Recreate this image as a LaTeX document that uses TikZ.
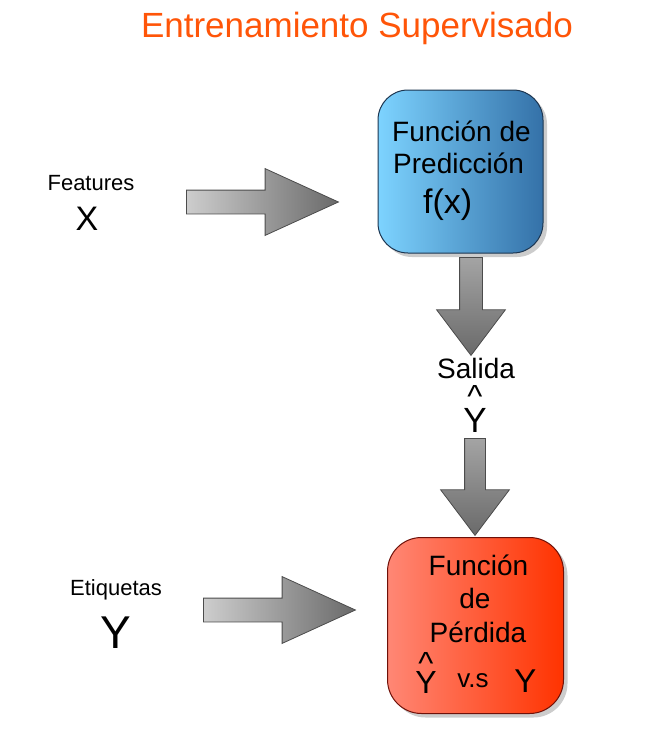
\documentclass[tikz,border=0pt]{standalone}
\usepackage{fontspec}
\setmainfont{Liberation Sans}
\usetikzlibrary{arrows, calc, shapes, shadows, positioning}

\definecolor{titulo}{HTML}{FF5508}
\definecolor{azulclaro}{HTML}{7DD3FF}
\definecolor{azuloscuro}{HTML}{3471A8}
\definecolor{azulborde}{HTML}{1C3550}
\definecolor{rojoclaro}{HTML}{FF8775}
\definecolor{rojooscuro}{HTML}{FF3300}
\definecolor{rojoborde}{HTML}{6E1008}
\definecolor{grisclaro}{HTML}{CDCDCD}
\definecolor{grisoscuro}{HTML}{6A6A6A}

\begin{document}
\begin{tikzpicture}[x=1pt,y=-1pt,
	caja/.style={rectangle, rounded corners=30pt, line width=1pt,
		drop shadow={shadow xshift=4pt, shadow yshift=-4pt, fill=black!40}},
	flecha/.style={single arrow, draw=black!70, line width=.8pt, anchor=tail,
		inner xsep=0pt, minimum height=152pt, single arrow tip angle=49,
		single arrow head extend=21.5pt, inner ysep=11.5pt,
		left color=grisclaro, right color=grisoscuro},
	flechaabajo/.style={single arrow, draw=black!70, line width=.8pt, anchor=tail,
		shape border rotate=270, inner ysep=0pt, minimum height=97pt,
		single arrow tip angle=74, single arrow head extend=23pt, inner xsep=11pt,
		top color=grisclaro!80!black, bottom color=grisoscuro},
	chico/.style={font=\fontsize{22}{24}\selectfont, anchor=base, inner sep=0pt},
	medio/.style={font=\fontsize{28}{31}\selectfont, anchor=base, inner sep=0pt},
	grande/.style={font=\fontsize{34}{36}\selectfont, anchor=base, inner sep=0pt},
	sombrero/.style={font=\fontsize{32}{34}\selectfont, anchor=base, inner sep=0pt}]

	\useasboundingbox (0,0) rectangle (645,729);

	\node[anchor=base, inner sep=0pt, text=titulo, font=\fontsize{35}{38}\selectfont]
		(titulo) at (357,37) {Entrenamiento Supervisado};

	% cajas
	\node[caja, draw=azulborde, left color=azulclaro, right color=azuloscuro,
		minimum width=165pt, minimum height=163pt] (prediccion) at (460.5,171.5) {};
	\node[medio, anchor=base west] (pred1) at (392,141) {Función de};
	\node[medio, anchor=base west] (pred2) at (393,173) {Predicción};
	\node[grande, anchor=base west] (fx) at (423,213) {f(x)};

	\node[caja, draw=rojoborde, left color=rojoclaro, right color=rojooscuro,
		rounded corners=34pt, minimum width=176pt, minimum height=176pt] (perdida) at (475.5,625.5) {};
	\node[medio] (perd1) at (478.5,575) {Función};
	\node[medio] (perd2) at (475,608) {de};
	\node[medio] (perd3) at (478,642) {Pérdida};
	\node[sombrero] (hatperd) at (426,674) {\textasciicircum};
	\node[grande, font=\fontsize{32}{36}\selectfont] (yhatperd) at (426,693) {Y};
	\node[medio, font=\fontsize{26}{30}\selectfont] (vs) at (473,687) {v.s};
	\node[grande, font=\fontsize{33}{36}\selectfont] (yperd) at (525.5,692) {Y};

	% entradas
	\node[chico] (features) at (91,190) {Features};
	\node[grande] (x) at (87,230) {X};
	\node[chico] (etiquetas) at (116,595) {Etiquetas};
	\node[grande, font=\fontsize{46}{50}\selectfont] (y) at (116,648) {Y};

	% salida
	\node[medio] (salida) at (476,378) {Salida};
	\node[sombrero] (hatsalida) at (475,407) {\textasciicircum};
	\node[grande, font=\fontsize{35}{36}\selectfont] (ysalida) at (475,432) {Y};

	% flechas
	\node[flecha] (flecha1) at (186,202) {};
	\node[flecha] (flecha4) at (203,610) {};
	\node[flechaabajo, minimum height=98pt, inner xsep=11pt] (flecha2) at (471,257) {};
	\node[flechaabajo, inner xsep=10pt, single arrow head extend=24pt] (flecha3) at (475,438) {};

\end{tikzpicture}
\end{document}
